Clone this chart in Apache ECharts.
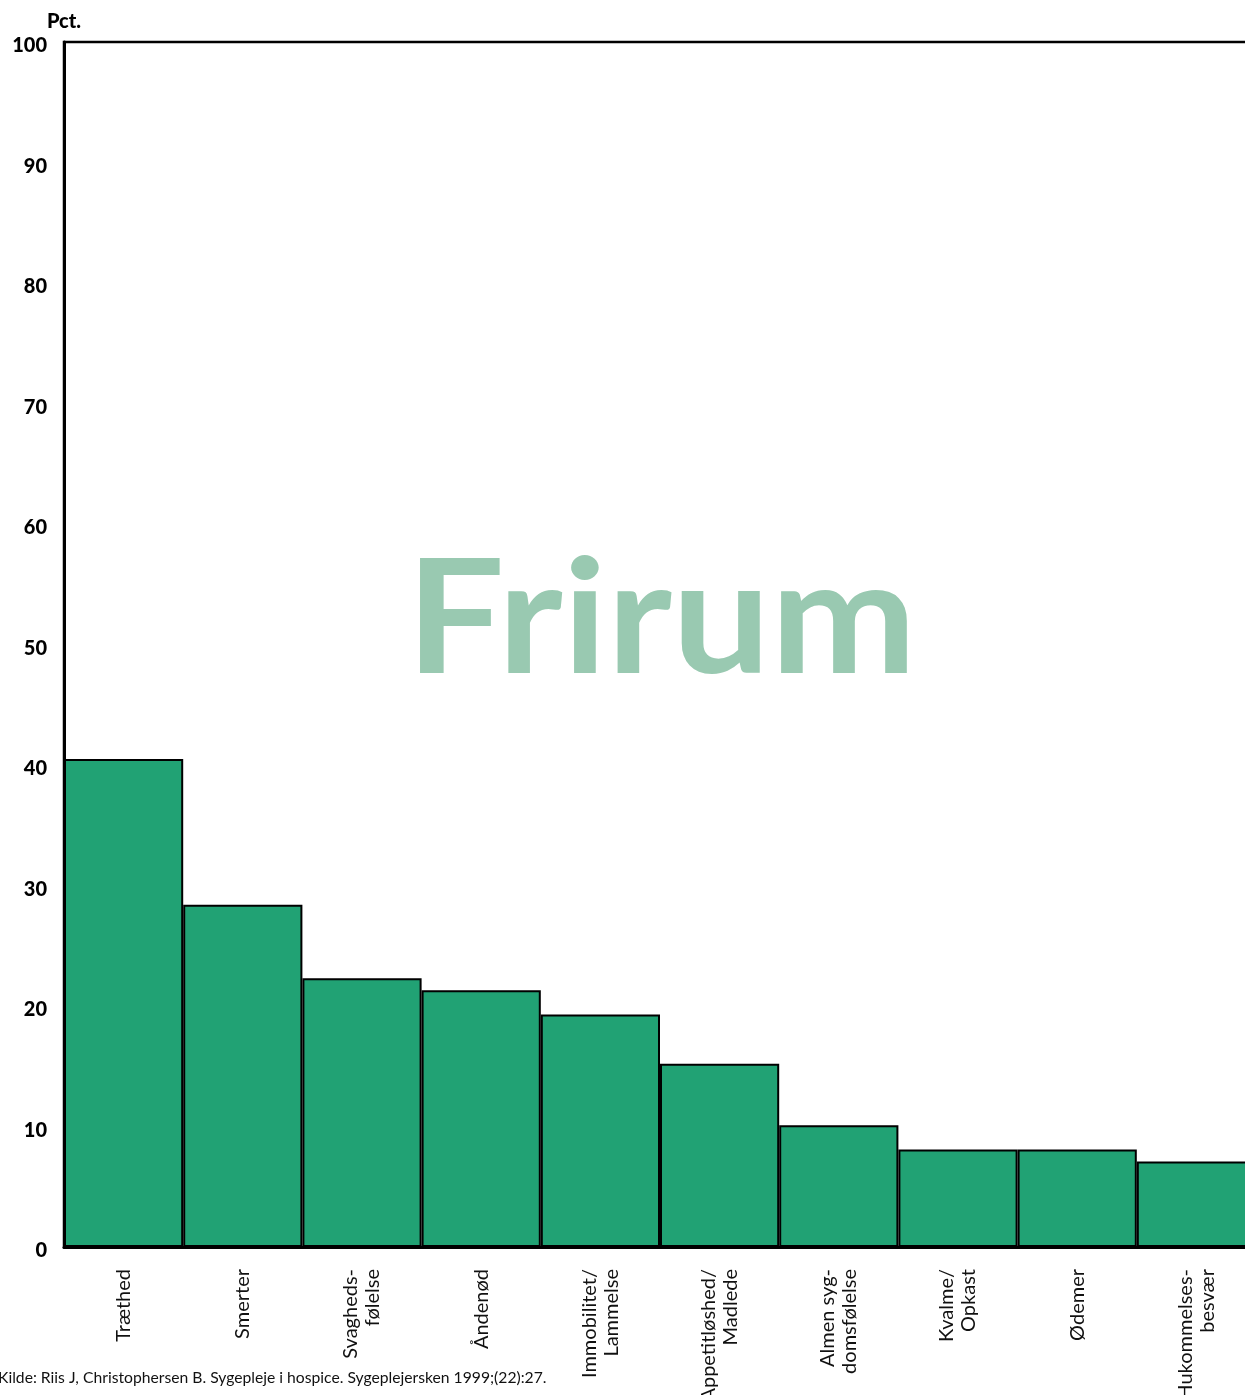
<!DOCTYPE html>
<html>
<head>
<meta charset="utf-8">
<style>
  html, body { margin: 0; padding: 0; background: #fff; }
  #chart { width: 1245px; height: 1395px; }
</style>
<script src="https://cdn.jsdelivr.net/npm/echarts@6/dist/echarts.min.js"></script>
</head>
<body>
<div id="chart"></div>
<script>
// Symptomer hos patienter på hospice (pct.)
const categories = [
  'Træthed',
  'Smerter',
  'Svagheds-\nfølelse',
  'Åndenød',
  'Immobilitet/\nLammelse',
  'Appetitløshed/\nMadlede',
  'Almen syg-\ndomsfølelse',
  'Kvalme/\nOpkast',
  'Ødemer',
  'Hukommelses-\nbesvær'
];
const values = [40.5, 28.4, 22.3, 21.3, 19.3, 15.2, 10.1, 8.1, 8.1, 7.1];
const yTicks = { min: 0, max: 100, interval: 10 };
const yTitle = 'Pct.';
const watermark = 'Frirum';
const source = 'Kilde: Riis J, Christophersen B. Sygepleje i hospice. Sygeplejersken 1999;(22):27.';

const chart = echarts.init(document.getElementById('chart'), null, { renderer: 'canvas' });

chart.setOption({
  animation: false,
  backgroundColor: '#ffffff',
  textStyle: { fontFamily: 'Lato, "Open Sans", sans-serif' },
  grid: {
    left: 64,
    top: 42,
    width: 1192,
    height: 1205,
    outerBoundsMode: 'none',
    containLabel: false,
    show: true,
    borderColor: '#000',
    borderWidth: 2.5,
    backgroundColor: 'transparent'
  },
  graphic: [
    {
      type: 'text',
      left: 406,
      top: 541,
      scaleX: 1.09,
      z: 0,
      style: {
        text: watermark,
        fill: '#99c9b1',
        font: 'bold 160px Lato, "Open Sans", sans-serif'
      }
    },
    {
      type: 'text',
      left: -2,
      top: 1370,
      style: {
        text: source,
        fill: '#111',
        font: '15.7px Lato, "Open Sans", sans-serif'
      }
    }
  ],
  xAxis: {
    type: 'category',
    data: categories,
    axisLine: { show: true, lineStyle: { color: '#000', width: 3 } },
    axisTick: { show: false },
    axisLabel: {
      rotate: 90,
      margin: 22,
      color: '#111',
      fontSize: 20,
      lineHeight: 22,
      fontFamily: 'Lato, "Open Sans", sans-serif',
      interval: 0
    },
    splitLine: { show: false }
  },
  yAxis: {
    type: 'value',
    min: yTicks.min,
    max: yTicks.max,
    interval: yTicks.interval,
    name: yTitle,
    nameLocation: 'end',
    nameGap: 10,
    nameTextStyle: {
      color: '#000',
      fontWeight: 900,
      fontSize: 20,
      fontFamily: 'Lato, "Open Sans", sans-serif'
    },
    axisLine: { show: true, lineStyle: { color: '#000', width: 3 } },
    axisTick: { show: false },
    splitLine: { show: false },
    axisLabel: {
      margin: 17,
      verticalAlign: 'top',
      lineHeight: 8,
      color: '#000',
      fontWeight: 900,
      fontSize: 20,
      fontFamily: 'Lato, "Open Sans", sans-serif'
    }
  },
  series: [{
    type: 'bar',
    data: values,
    barCategoryGap: 0,
    z: 3,
    itemStyle: {
      color: '#21a274',
      borderColor: '#000',
      borderWidth: 2
    }
  }]
});
</script>
</body>
</html>
